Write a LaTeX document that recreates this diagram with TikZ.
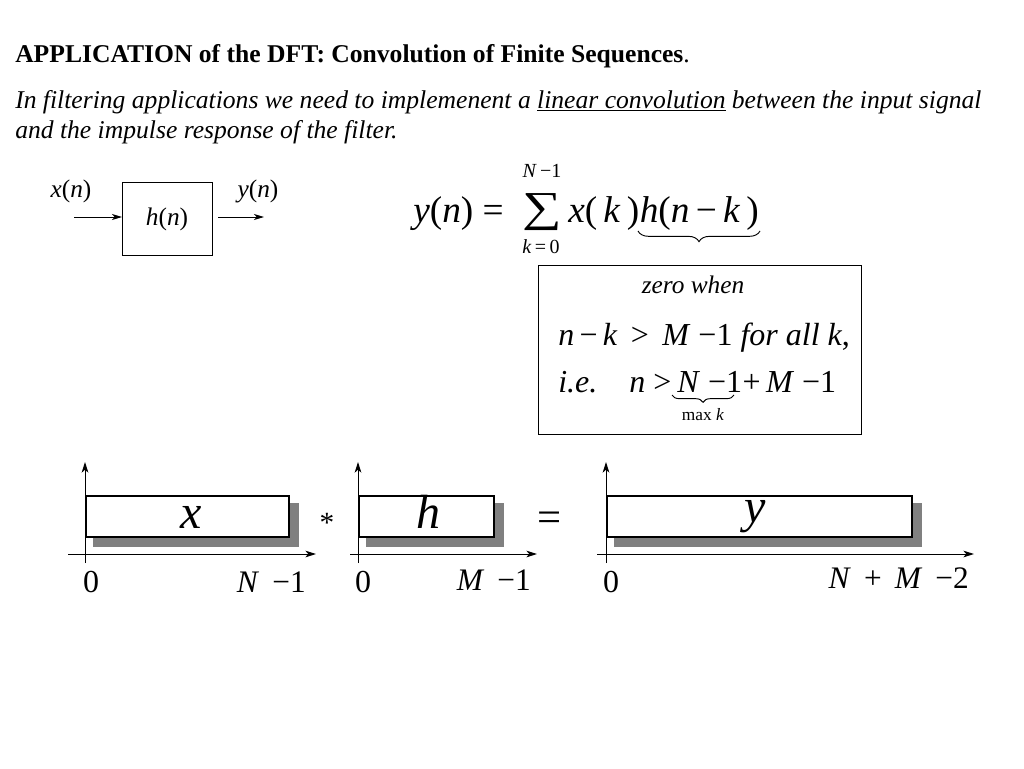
\documentclass[tikz,border=0pt]{standalone}
\usepackage{fontspec}
\setmainfont{Liberation Serif}
\usetikzlibrary{arrows.meta,decorations.pathreplacing}
\newcommand{\myfs}[1]{\fontsize{#1}{#1}\selectfont}
\begin{document}
\begin{tikzpicture}[x=0.75pt,y=-0.75pt,
  txt/.style={inner sep=0pt, anchor=base west},
  ctr/.style={inner sep=0pt, anchor=base},
  arr/.style={-{Stealth[length=7.5pt,width=4.5pt,inset=2pt]}, line width=0.7pt},
  axis/.style={-{Stealth[length=8pt,width=5pt,inset=2.2pt]}, line width=0.75pt},
  sigrect/.style={draw=black, fill=white, line width=1pt},
  shadowrect/.style={fill=black!50},
  ubrace/.style={decorate, decoration={brace, mirror, amplitude=8pt}, line width=0.7pt},
]
\fill[white] (0,0) rectangle (1024,768);
\useasboundingbox (0,0) rectangle (1024,768);

% title and sentence
\node[txt, font=\myfs{19.2pt}] (title) at (15,62) {\textbf{APPLICATION of the DFT: Convolution of Finite Sequences}.};
\node[txt, font=\myfs{19.2pt}\itshape] (line1) at (15,108) {In filtering applications we need to implemenent a \underline{linear convolution} between the input signal};
\node[txt, font=\myfs{19.2pt}\itshape] (line2) at (15,138) {and the impulse response of the filter.};

% block diagram
\node[draw, line width=0.75pt, minimum width=67.5pt, minimum height=55pt, inner sep=0pt] (hbox) at (167,219) {};
\node[ctr, font=\myfs{19pt}] (hn) at (167,225) {\textit{h}(\textit{n})};
\node[ctr, font=\myfs{19pt}] (xn) at (71,197) {\textit{x}(\textit{n})};
\node[ctr, font=\myfs{19pt}] (yn) at (258,197) {\textit{y}(\textit{n})};
\coordinate (inS) at (74,217);
\coordinate (inE) at (122,217);
\coordinate (outS) at (218,217);
\coordinate (outE) at (264,217);
\draw[arr] (inS) -- (inE);
\draw[arr] (outS) -- (outE);

% convolution sum
\node[txt, font=\myfs{28pt}] (lhs) at (413,222) {\textit{y}(\textit{n}) =};
\node[inner sep=0pt, anchor=base, text height=16pt, text depth=0pt, font=\myfs{32pt}] (sum) at (542,221) {\scalebox{1.3}[1]{∑}};
\node[ctr, font=\myfs{15pt}] (sup) at (542,177) {\textit{N}\,−1};
\node[ctr, font=\myfs{15pt}] (sub) at (541,253) {\textit{k}\,=\,0};
\node[txt, font=\myfs{28pt}] (xk) at (568,222) {\textit{x}(\,\textit{k}\,)};
\node[txt, font=\myfs{28pt}] (hnk) at (xk.base east) {\textit{h}(\textit{n}\,−\,\textit{k}\,)};
\coordinate (brL) at (638,231);
\coordinate (brR) at (760,231);
\draw[ubrace] (brL) -- (brR);

% condition box
\node[draw, line width=0.75pt, minimum width=242.25pt, minimum height=126.75pt, inner sep=0pt] (zbox) at (699.5,349.5) {};
\node[ctr, font=\myfs{19pt}\itshape] (zero) at (693,293) {zero when};
\node[txt, font=\myfs{24pt}] (cond1) at (558,345) {\textit{n}\,−\,\textit{k} \,>\, \textit{M} −1 \textit{for all k},};
\node[txt, font=\myfs{24pt}] (cond2a) at (558,392) {\textit{i.e.}\quad\textit{n} >\,};
\node[txt, font=\myfs{24pt}] (cond2b) at (cond2a.base east) {\textit{N} −1};
\node[txt, font=\myfs{24pt}] (cond2c) at (cond2b.base east) {+\,\textit{M} −1};
\coordinate (mbL) at (672,395);
\coordinate (mbR) at (734,395);
\draw[ubrace, decoration={brace, mirror, amplitude=5.5pt}] (mbL) -- (mbR);
\node[ctr, font=\myfs{13pt}] (maxk) at (703,420) {max \textit{k}};

% plot 1 : x
\fill[shadowrect] (93,503) rectangle (299,547);
\draw[sigrect] (86,496) rectangle (289,537);
\coordinate (a1b) at (85,563);
\coordinate (a1t) at (85,462);
\coordinate (a1l) at (68,554);
\coordinate (a1r) at (316,554);
\draw[axis] (a1b) -- (a1t);
\draw[axis] (a1l) -- (a1r);
\node[ctr, font=\myfs{36pt}\itshape] (xlab) at (191,528) {x};
\node[ctr, font=\myfs{24pt}] (x0) at (91,592) {0};
\node[inner sep=0pt, anchor=base east, font=\myfs{23.5pt}] (xN) at (306,592) {\textit{N}\, −1};

\node[ctr, font=\myfs{22pt}] (star) at (327,532) {*};

% plot 2 : h
\fill[shadowrect] (366,503) rectangle (504,547);
\draw[sigrect] (359,496) rectangle (494,537);
\coordinate (a2b) at (358,563);
\coordinate (a2t) at (358,462);
\coordinate (a2l) at (350,554);
\coordinate (a2r) at (537,554);
\draw[axis] (a2b) -- (a2t);
\draw[axis] (a2l) -- (a2r);
\node[ctr, font=\myfs{36pt}\itshape] (hlab) at (428,528) {h};
\node[ctr, font=\myfs{24pt}] (h0) at (363,592) {0};
\node[inner sep=0pt, anchor=base east, font=\myfs{23.5pt}] (hM) at (531,590) {\textit{M}\, −1};

\node[ctr, font=\myfs{32pt}] (eq) at (550,531) {=};

% plot 3 : y
\fill[shadowrect] (614,503) rectangle (922,547);
\draw[sigrect] (607,496) rectangle (912,537);
\coordinate (a3b) at (606,563);
\coordinate (a3t) at (606,462);
\coordinate (a3l) at (597,554);
\coordinate (a3r) at (974,554);
\draw[axis] (a3b) -- (a3t);
\draw[axis] (a3l) -- (a3r);
\node[ctr, font=\myfs{36pt}\itshape] (ylab) at (755,522) {y};
\node[ctr, font=\myfs{24pt}] (y0) at (611,592) {0};
\node[inner sep=0pt, anchor=base east, font=\myfs{23.5pt}] (yNM) at (969,588) {\textit{N}\, +\, \textit{M}\, −2};
\end{tikzpicture}
\end{document}
